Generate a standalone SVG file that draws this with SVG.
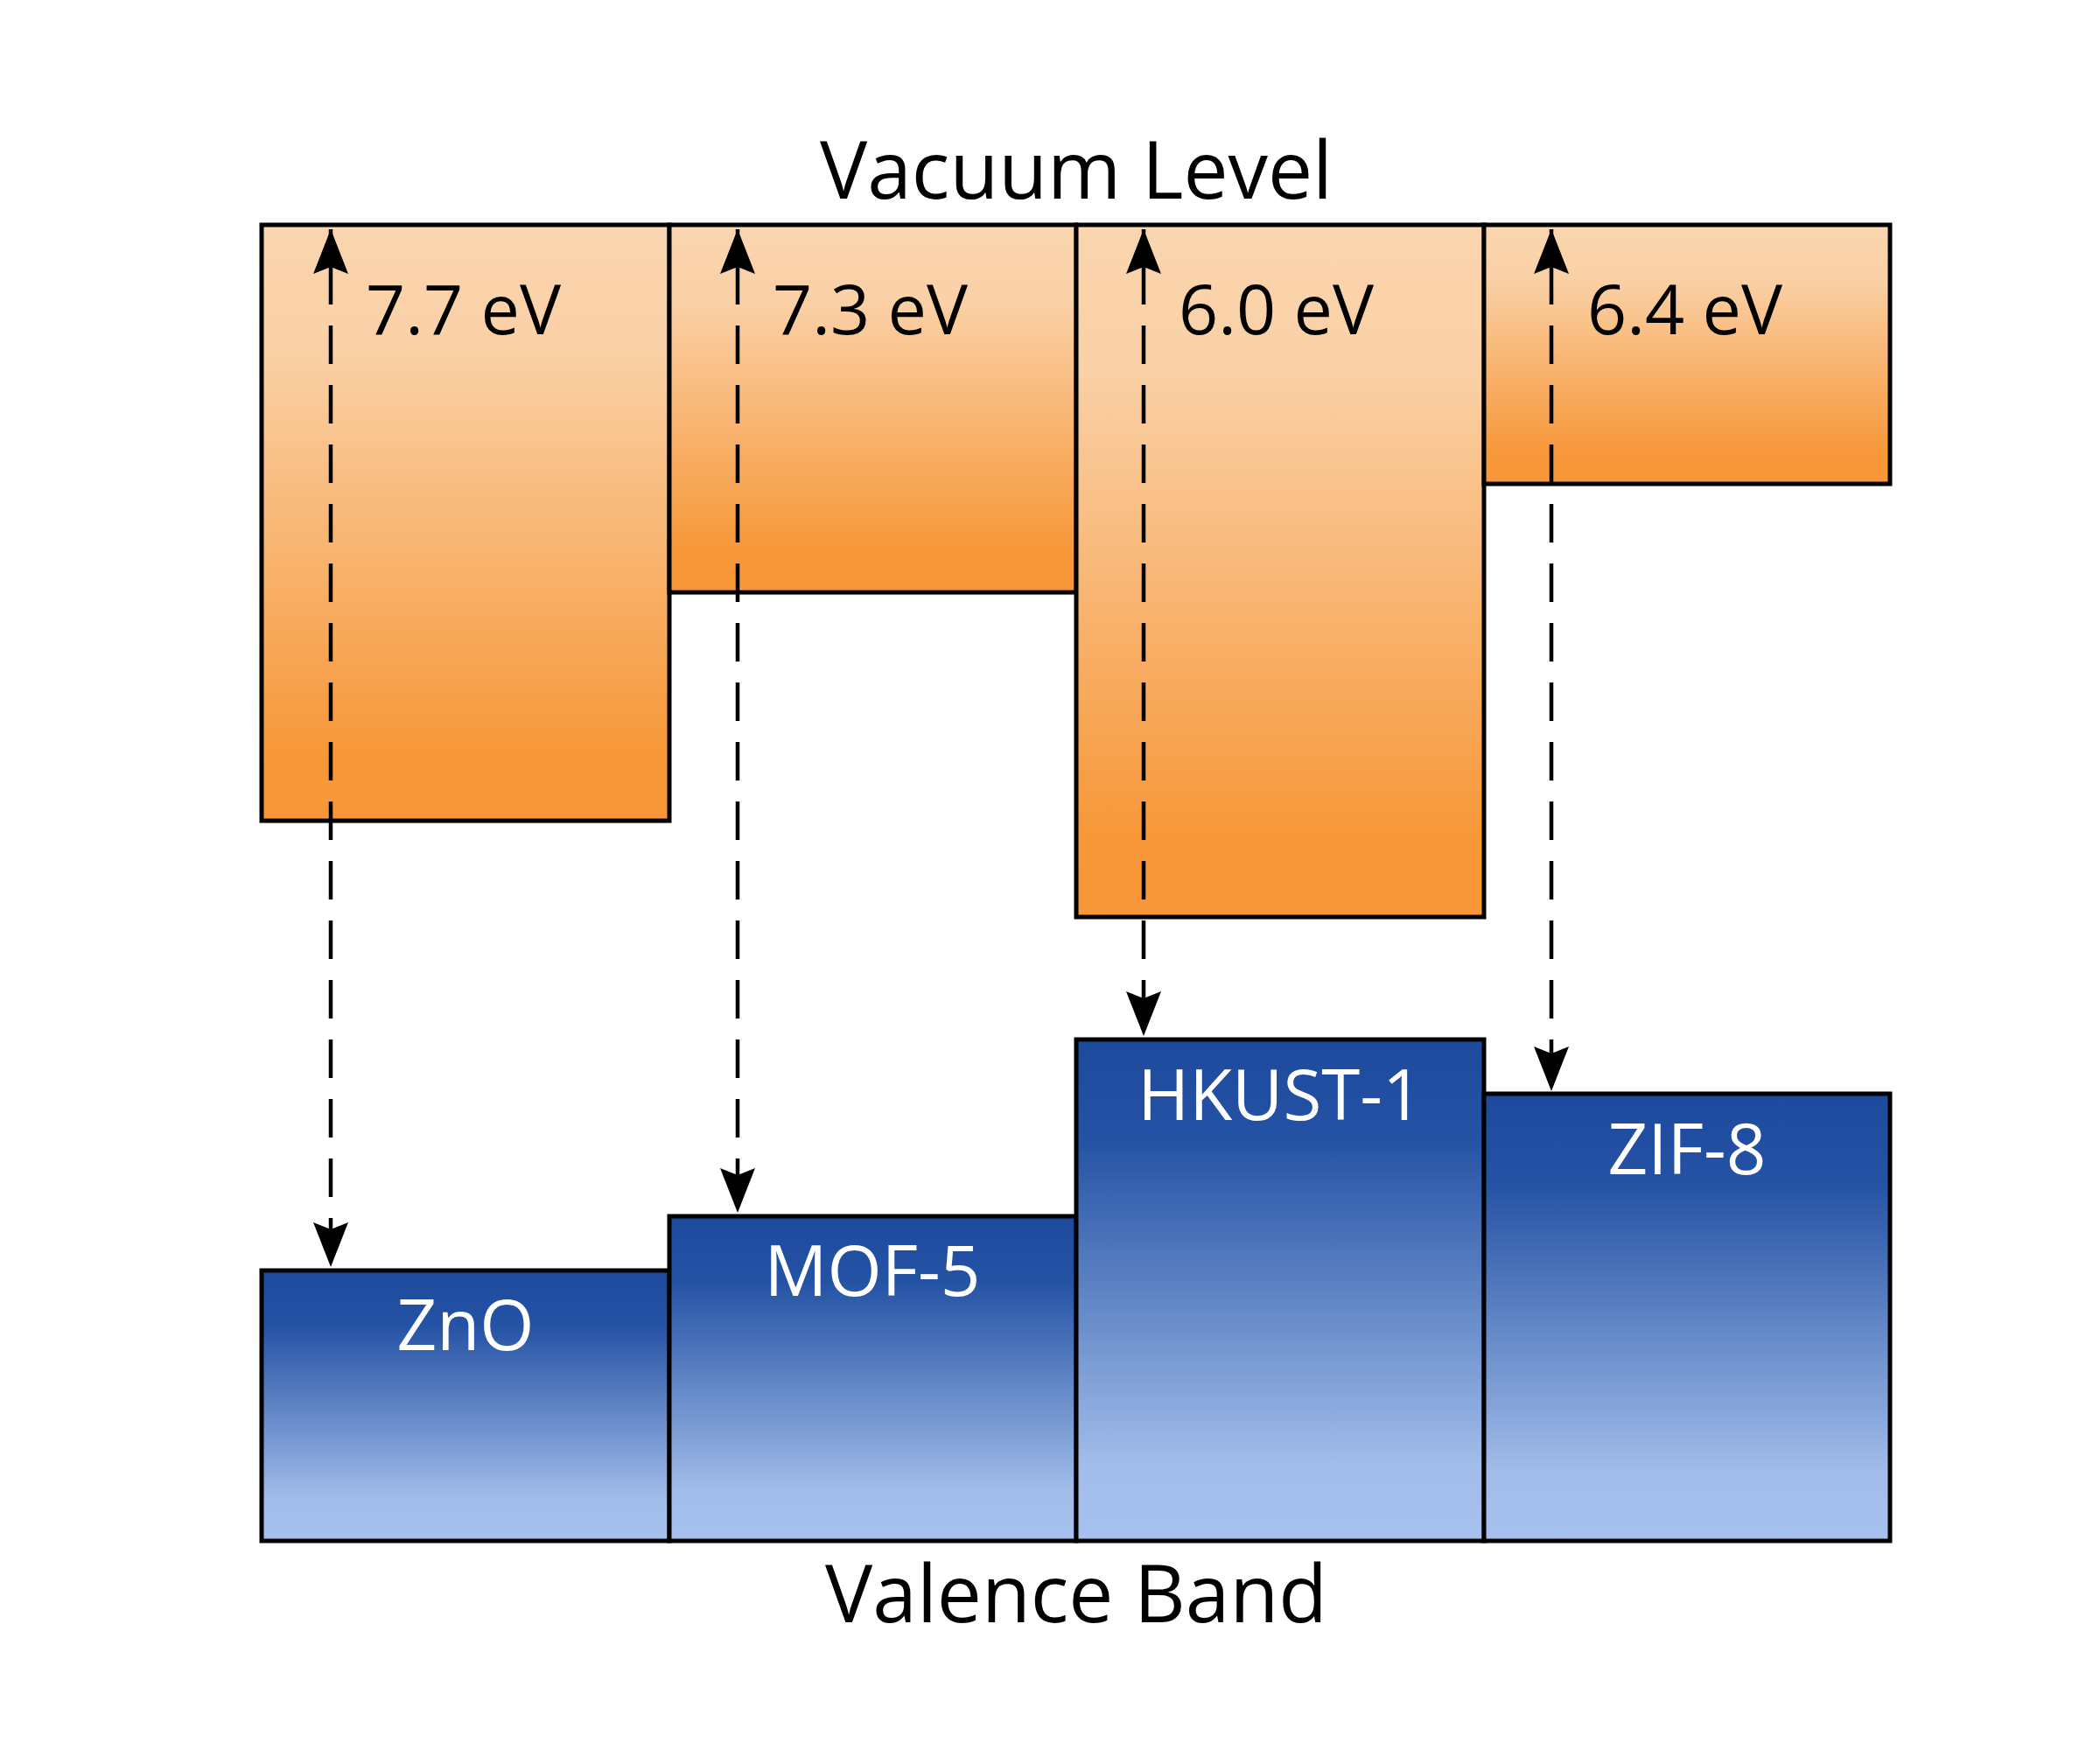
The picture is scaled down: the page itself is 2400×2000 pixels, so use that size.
<svg xmlns="http://www.w3.org/2000/svg" width="2400" height="2000" viewBox="0 0 2400 2000">
<defs>
<linearGradient id="gOrange" x1="0" y1="0" x2="0" y2="1">
<stop offset="0" stop-color="#FAD5AF"/>
<stop offset="0.2" stop-color="#FAD1A7"/>
<stop offset="0.88" stop-color="#F7983A"/>
<stop offset="1" stop-color="#F7973A"/>
</linearGradient>
<linearGradient id="gBlue" x1="0" y1="0" x2="0" y2="1">
<stop offset="0" stop-color="#1E4A9E"/>
<stop offset="0.2" stop-color="#2452A4"/>
<stop offset="0.85" stop-color="#A2BDEA"/>
<stop offset="1" stop-color="#A7C1EE"/>
</linearGradient>
<marker id="ah" markerUnits="userSpaceOnUse" markerWidth="60" markerHeight="50" viewBox="-55 -25 60 50" refX="0" refY="0" orient="auto-start-reverse">
<path d="M0,0 L-51,-20 L-43,0 L-51,20 Z" fill="#000"/>
</marker>
<style>
.ob{fill:url(#gOrange);stroke:#000;stroke-width:5}
.bb{fill:url(#gBlue);stroke:#000;stroke-width:5}
.lbl{font-family:"Open Sans","Noto Sans",sans-serif;font-size:79px;fill:#000}
.mat{font-family:"Open Sans","Noto Sans",sans-serif;font-size:80px;fill:#fff;text-anchor:middle}
.ttl{font-family:"Open Sans","Noto Sans",sans-serif;font-size:91px;fill:#000;text-anchor:middle}
.conn{stroke:#000;stroke-width:4.5;fill:none;stroke-dasharray:44 24;stroke-dashoffset:26;marker-start:url(#ah);marker-end:url(#ah)}
</style>
</defs>
<g id="title-vacuum"><text class="ttl" x="1230" y="227">Vacuum Level</text></g>
<g id="title-valence"><text class="ttl" x="1230" y="1854">Valence Band</text></g>
<g id="node-zno">
<rect class="ob" x="299" y="257" width="466" height="681"/>
<rect class="bb" x="299" y="1452" width="466" height="309"/>
<text class="mat" x="532" y="1543">ZnO</text>
</g>
<g id="node-mof5">
<rect class="ob" x="765" y="257" width="465" height="420"/>
<rect class="bb" x="765" y="1390" width="465" height="371"/>
<text class="mat" x="997" y="1481">MOF-5</text>
</g>
<g id="node-hkust1">
<rect class="ob" x="1230" y="257" width="466" height="791"/>
<rect class="bb" x="1230" y="1188" width="466" height="573"/>
<text class="mat" x="1463" y="1280">HKUST-1</text>
</g>
<g id="node-zif8">
<rect class="ob" x="1696" y="257" width="464" height="296"/>
<rect class="bb" x="1696" y="1250" width="464" height="511"/>
<text class="mat" x="1928" y="1342">ZIF-8</text>
</g>
<g id="connectors">
<line class="conn" x1="378" y1="262" x2="378" y2="1448"/>
<line class="conn" x1="843" y1="262" x2="843" y2="1386"/>
<line class="conn" x1="1307" y1="262" x2="1307" y2="1184"/>
<line class="conn" x1="1773" y1="262" x2="1773" y2="1247"/>
</g>
<g id="labels">
<text class="lbl" x="418" y="382">7.7 eV</text>
<text class="lbl" x="883" y="382">7.3 eV</text>
<text class="lbl" x="1347" y="382">6.0 eV</text>
<text class="lbl" x="1814" y="382">6.4 eV</text>
</g>
</svg>
